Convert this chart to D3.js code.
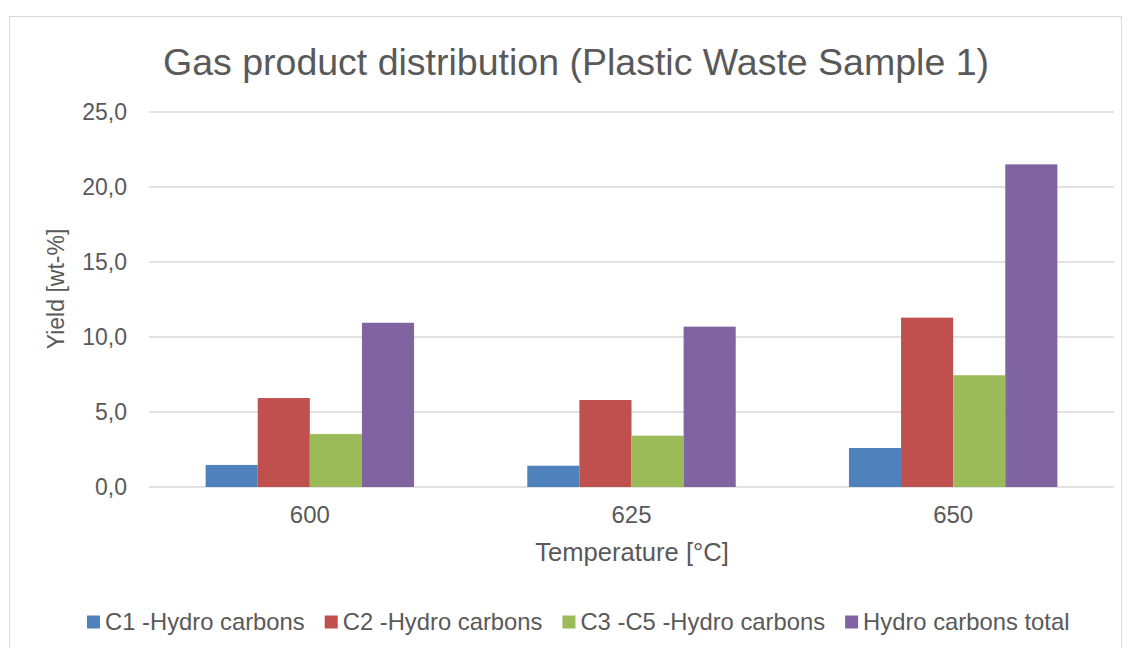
<!DOCTYPE html>
<html>
<head>
<meta charset="utf-8">
<script src="https://cdn.jsdelivr.net/npm/d3@7"></script>
<style>
  html, body { margin: 0; padding: 0; background: #ffffff; }
  svg { display: block; font-family: "Liberation Sans", Arial, sans-serif; }
</style>
</head>
<body>
<svg id="chart" width="1131" height="648"></svg>
<script>
// Gas product yields (wt-%) per pyrolysis temperature
const categories = ["600", "625", "650"];
const seriesNames = ["C1 -Hydro carbons", "C2 -Hydro carbons", "C3 -C5 -Hydro carbons", "Hydro carbons total"];
const c1Values = [1.47, 1.42, 2.60];
const c2Values = [5.93, 5.80, 11.29];
const c3c5Values = [3.53, 3.42, 7.45];
const totalValues = [10.95, 10.69, 21.51];
const yTicks = [0, 5, 10, 15, 20, 25];
const colors = ["#4f81bd", "#c0504d", "#9bbb59", "#8064a2"];

const seriesValues = [c1Values, c2Values, c3c5Values, totalValues];

const svg = d3.select("#chart");
const textColor = "#595959";

// outer frame
svg.append("rect")
  .attr("x", 9.5).attr("y", 16.5)
  .attr("width", 1112).attr("height", 640)
  .attr("fill", "#ffffff").attr("stroke", "#d9d9d9").attr("stroke-width", 1);

const plot = { left: 149, right: 1114, top: 112, bottom: 487 };

const x0 = d3.scaleBand().domain(categories).range([plot.left, plot.right]).paddingInner(0).paddingOuter(0);
const groupWidth = x0.bandwidth() * 0.648;
const x1 = d3.scaleBand().domain(d3.range(seriesNames.length)).range([0, groupWidth]).padding(0);
const y = d3.scaleLinear().domain([0, 25]).range([plot.bottom, plot.top]);

// horizontal gridlines
svg.append("g")
  .selectAll("line")
  .data(yTicks)
  .join("line")
  .attr("x1", plot.left).attr("x2", plot.right)
  .attr("y1", d => y(d)).attr("y2", d => y(d))
  .attr("stroke", "#d9d9d9").attr("stroke-width", 1.3);

// y tick labels
const fmt = d => d3.format(".1f")(d).replace(".", ",");
svg.append("g")
  .selectAll("text")
  .data(yTicks)
  .join("text")
  .attr("x", 127).attr("y", d => y(d))
  .attr("dy", "0.35em")
  .attr("text-anchor", "end")
  .attr("font-size", 23)
  .attr("fill", textColor)
  .text(fmt);

// bars
const groups = svg.append("g")
  .selectAll("g")
  .data(categories)
  .join("g")
  .attr("transform", d => `translate(${x0(d) + (x0.bandwidth() - groupWidth) / 2},0)`);

groups.selectAll("rect")
  .data((d, i) => seriesValues.map((vals, s) => ({ s, v: vals[i] })))
  .join("rect")
  .attr("x", d => x1(d.s))
  .attr("width", x1.bandwidth())
  .attr("y", d => y(d.v))
  .attr("height", d => y(0) - y(d.v))
  .attr("fill", d => colors[d.s]);

// category labels
svg.append("g")
  .selectAll("text")
  .data(categories)
  .join("text")
  .attr("x", d => x0(d) + x0.bandwidth() / 2)
  .attr("y", 523)
  .attr("text-anchor", "middle")
  .attr("font-size", 24)
  .attr("fill", textColor)
  .text(d => d);

// title
svg.append("text")
  .attr("x", 576).attr("y", 75)
  .attr("text-anchor", "middle")
  .attr("font-size", 37.5)
  .attr("fill", textColor)
  .text("Gas product distribution (Plastic Waste Sample 1)");

// axis titles
svg.append("text")
  .attr("x", 632).attr("y", 561)
  .attr("text-anchor", "middle")
  .attr("font-size", 25.6)
  .attr("fill", textColor)
  .text("Temperature [°C]");

svg.append("text")
  .attr("transform", "translate(64,289) rotate(-90)")
  .attr("text-anchor", "middle")
  .attr("font-size", 23)
  .attr("fill", textColor)
  .text("Yield [wt-%]");

// legend
const legend = svg.append("g").attr("transform", "translate(87,622)");
let lx = 0;
seriesNames.forEach((name, i) => {
  const g = legend.append("g").attr("transform", `translate(${lx},0)`);
  g.append("rect").attr("x", 0).attr("y", -6.5).attr("width", 13).attr("height", 13).attr("fill", colors[i]);
  const t = g.append("text")
    .attr("x", 18).attr("y", 0).attr("dy", "0.35em")
    .attr("font-size", 23.8)
    .attr("fill", textColor)
    .text(name);
  lx += 18 + t.node().getComputedTextLength() + 20;
});
</script>
</body>
</html>
